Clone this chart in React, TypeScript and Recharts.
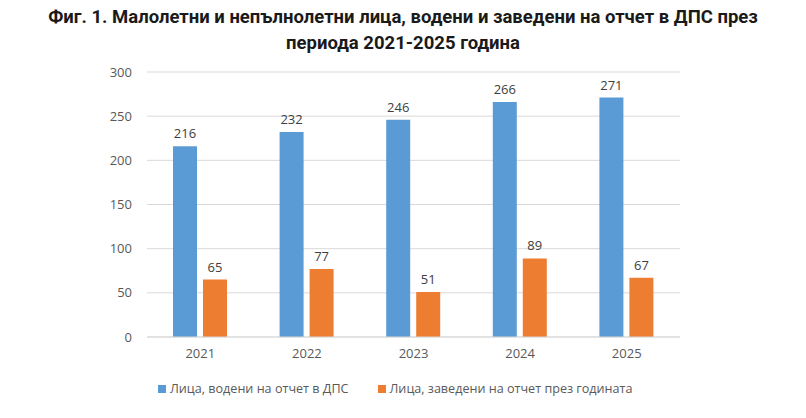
import { BarChart, Bar, XAxis, YAxis, CartesianGrid, LabelList } from "recharts";

const years = ["2021", "2022", "2023", "2024", "2025"];
const tracked = [216, 232, 246, 266, 271];
const registered = [65, 77, 51, 89, 67];
const yTicks = [0, 50, 100, 150, 200, 250, 300];
const seriesNames = ["Лица, водени на отчет в ДПС", "Лица, заведени на отчет през годината"];
const seriesColors = ["#5b9bd5", "#ed7d31"];

const data = years.map((year, i) => ({
  year,
  tracked: tracked[i],
  registered: registered[i],
}));

const font = "'Open Sans', 'Noto Sans', sans-serif";

export default function App() {
  return (
    <div style={{ position: "absolute", left: 0, top: 0, width: 806, height: 418, background: "#fff" }}>
      <div
        style={{
          position: "absolute",
          left: 0,
          top: 4,
          width: 806,
          textAlign: "center",
          whiteSpace: "nowrap",
          fontFamily: "Roboto, sans-serif",
          fontWeight: 700,
          fontSize: 18.5,
          letterSpacing: 0,
          lineHeight: "26px",
          color: "#1a1a1a",
        }}
      >
        Фиг. 1. Малолетни и непълнолетни лица, водени и заведени на отчет в ДПС през
        <br />
        периода 2021-2025 година
      </div>
      <BarChart
        width={806}
        height={418}
        data={data}
        margin={{ top: 72, right: 126, bottom: 51, left: 0 }}
        barGap={6}
        barSize={24}
      >
        <CartesianGrid vertical={false} stroke="#d9d9d9" />
        <XAxis
          dataKey="year"
          height={30}
          axisLine={{ stroke: "#d9d9d9" }}
          tickLine={false}
          tickSize={0}
          tickMargin={12}
          tick={{ fill: "#595959", fontSize: 13, fontFamily: font }}
        />
        <YAxis
          width={147}
          domain={[0, 300]}
          ticks={yTicks}
          axisLine={false}
          tickLine={false}
          tickSize={0}
          tickMargin={15}
          tick={{ fill: "#595959", fontSize: 13, fontFamily: font }}
        />
        <Bar dataKey="tracked" name={seriesNames[0]} fill={seriesColors[0]} isAnimationActive={false}>
          <LabelList dataKey="tracked" position="top" offset={8} fill="#404040" fontSize={13} fontFamily={font} />
        </Bar>
        <Bar dataKey="registered" name={seriesNames[1]} fill={seriesColors[1]} isAnimationActive={false}>
          <LabelList dataKey="registered" position="top" offset={8} fill="#404040" fontSize={13} fontFamily={font} />
        </Bar>
      </BarChart>
      <div
        style={{
          position: "absolute",
          left: 158,
          top: 380,
          display: "flex",
          alignItems: "center",
          fontFamily: font,
          fontSize: 12.6,
          color: "#595959",
          whiteSpace: "nowrap",
        }}
      >
        {seriesNames.map((name, i) => (
          <div key={name} style={{ display: "flex", alignItems: "center", marginRight: 29 }}>
            <span style={{ display: "inline-block", width: 8, height: 8, background: seriesColors[i], marginRight: 4 }} />
            <span>{name}</span>
          </div>
        ))}
      </div>
    </div>
  );
}
